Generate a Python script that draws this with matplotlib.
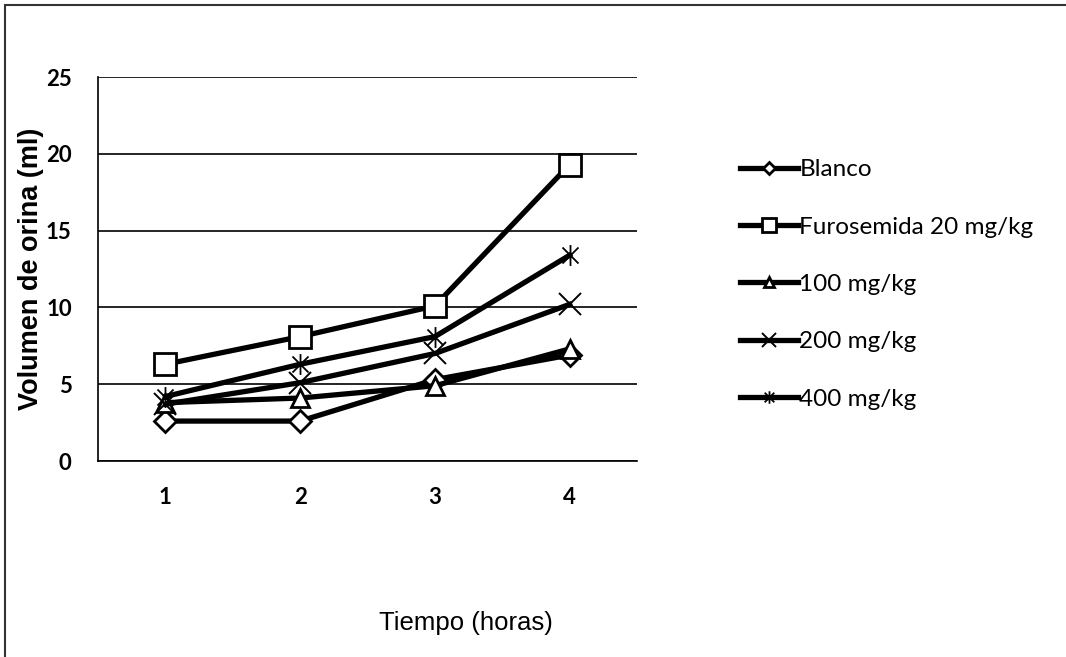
import matplotlib
matplotlib.use('Agg')
import matplotlib.pyplot as plt
from matplotlib.patches import Rectangle
from matplotlib.path import Path

# datos
horas = [1, 2, 3, 4]
blanco = [2.6, 2.6, 5.3, 6.9]
furosemida = [6.3, 8.1, 10.1, 19.3]
dosis100 = [3.8, 4.1, 4.9, 7.3]
dosis200 = [3.7, 5.1, 7.0, 10.2]
dosis400 = [4.2, 6.3, 8.1, 13.4]

# estrella tipo excel: aspa + linea vertical
estrella = Path([(-1, -1), (1, 1), (-1, 1), (1, -1), (0, -1.3), (0, 1.3)],
                [Path.MOVETO, Path.LINETO, Path.MOVETO, Path.LINETO,
                 Path.MOVETO, Path.LINETO])

series = [blanco, furosemida, dosis100, dosis200, dosis400]
nombres = ['Blanco', 'Furosemida 20 mg/kg', '100 mg/kg', '200 mg/kg', '400 mg/kg']
marcas = ['D', 's', '^', 'x', estrella]
tamanos = [11, 16, 13, 16, 15]
bordes = [2, 2, 2, 1.4, 1.3]

fig = plt.figure(figsize=(10.66, 6.57), dpi=100)
ax = fig.add_axes([0.092, 0.2983, 0.5056, 0.5845])

for vals, nom, m, s, b in zip(series, nombres, marcas, tamanos, bordes):
    ax.plot(horas, vals, '-', color='black', linewidth=3.8, marker=m,
            markersize=s, markeredgewidth=b, markerfacecolor='white',
            markeredgecolor='black', label=nom)

ax.set_xlim(0.5, 4.5)
ax.set_ylim(0, 25)
ax.set_yticks([0, 5, 10, 15, 20, 25])
ax.set_xticks(horas)
ax.yaxis.grid(True, color='black', linewidth=1.2)
ax.set_axisbelow(True)
for side in ['top', 'right']:
    ax.spines[side].set_visible(False)
ax.spines['left'].set_linewidth(1.2)
ax.spines['bottom'].set_linewidth(1.2)
ax.tick_params(length=0, labelsize=16)
for lab in ax.get_xticklabels() + ax.get_yticklabels():
    lab.set_family('Lato')
    lab.set_weight('bold')
ax.tick_params(axis='x', pad=19)
ax.tick_params(axis='y', pad=19)

ax.set_ylabel('Volumen de orina (ml)', fontsize=19.5, fontweight='bold',
              family='Liberation Sans', labelpad=0)
ax.yaxis.set_label_coords(-0.1, 0.5)
fig.text(0.437, 0.052, 'Tiempo (horas)', fontsize=18.5, family='Liberation Sans',
         ha='center', va='center')

leg = fig.legend(loc='center left', bbox_to_anchor=(0.685, 0.567), frameon=False,
                 prop={'family': 'Lato', 'size': 17.5}, labelspacing=1.5,
                 handlelength=2.4, handletextpad=0.05, markerscale=0.6,
                 borderaxespad=0)

# marco exterior
fig.patches.append(Rectangle((0.005, -0.1), 1.2, 1.092, transform=fig.transFigure,
                             fill=False, edgecolor='#333333', linewidth=1.5))

fig.savefig('out.png', dpi=100)
